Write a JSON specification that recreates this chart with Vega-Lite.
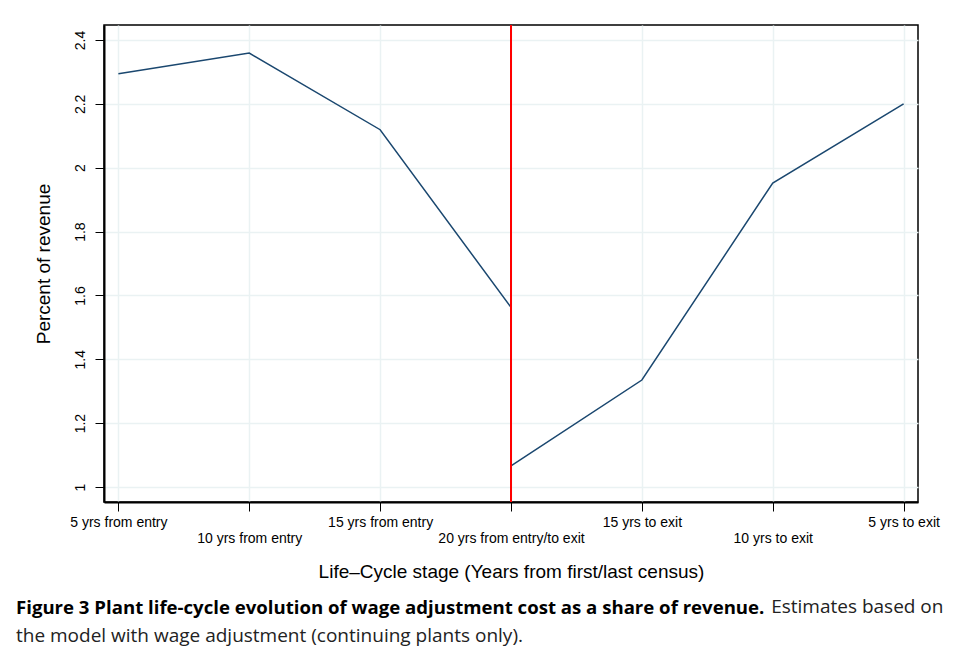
{
  "$schema": "https://vega.github.io/schema/vega-lite/v6.json",
  "autosize": {"type": "none"},
  "width": 814,
  "height": 477,
  "padding": {"left": 104, "top": 25, "right": 35, "bottom": 154},
  "background": "white",
  "config": {
    "font": "Liberation Sans",
    "view": {"stroke": "black", "strokeWidth": 1.5}
  },
  "title": {
    "text": "Figure 3 Plant life-cycle evolution of wage adjustment cost as a share of revenue.",
    "subtitle": ["\u200b\u00a0\u00a0\u00a0\u00a0\u00a0\u00a0\u00a0\u00a0\u00a0\u00a0\u00a0\u00a0\u00a0\u00a0\u00a0\u00a0\u00a0\u00a0\u00a0\u00a0\u00a0\u00a0\u00a0\u00a0\u00a0\u00a0\u00a0\u00a0\u00a0\u00a0\u00a0\u00a0\u00a0\u00a0\u00a0\u00a0\u00a0\u00a0\u00a0\u00a0\u00a0\u00a0\u00a0\u00a0\u00a0\u00a0\u00a0\u00a0\u00a0\u00a0\u00a0\u00a0\u00a0\u00a0\u00a0\u00a0\u00a0\u00a0\u00a0\u00a0\u00a0\u00a0\u00a0\u00a0\u00a0\u00a0\u00a0\u00a0\u00a0\u00a0\u00a0\u00a0\u00a0\u00a0\u00a0\u00a0\u00a0\u00a0\u00a0\u00a0\u00a0\u00a0\u00a0\u00a0\u00a0\u00a0\u00a0\u00a0\u00a0\u00a0\u00a0\u00a0\u00a0\u00a0\u00a0\u00a0\u00a0\u00a0\u00a0\u00a0\u00a0\u00a0\u00a0\u00a0\u00a0\u00a0\u00a0\u00a0\u00a0\u00a0\u00a0\u00a0\u00a0\u00a0\u00a0\u00a0\u00a0\u00a0\u00a0\u00a0\u00a0\u00a0\u00a0\u00a0\u00a0\u00a0\u00a0\u00a0\u00a0\u00a0\u00a0\u00a0\u00a0\u00a0\u00a0\u00a0\u00a0\u00a0\u00a0\u00a0\u00a0\u00a0\u00a0\u00a0\u00a0\u00a0\u00a0\u00a0\u00a0\u00a0\u00a0\u00a0\u00a0Estimates based on", "the model with wage adjustment (continuing plants only)."],
    "orient": "bottom",
    "anchor": "start",
    "frame": "group",
    "dx": -88,
    "offset": 18,
    "font": "Open Sans",
    "fontSize": 18.6,
    "fontWeight": "bold",
    "color": "black",
    "subtitleFont": "Open Sans",
    "subtitleFontSize": 19,
    "subtitleLineHeight": 29,
    "subtitleColor": "#222222",
    "subtitlePadding": -20
  },
  "datasets": {
    "series": [
      {"stage": "5 yrs from entry", "side": "entry", "pct": 2.294},
      {"stage": "10 yrs from entry", "side": "entry", "pct": 2.359},
      {"stage": "15 yrs from entry", "side": "entry", "pct": 2.119},
      {"stage": "20 yrs from entry/to exit", "side": "entry", "pct": 1.5625},
      {"stage": "20 yrs from entry/to exit", "side": "exit", "pct": 1.066},
      {"stage": "15 yrs to exit", "side": "exit", "pct": 1.335},
      {"stage": "10 yrs to exit", "side": "exit", "pct": 1.952},
      {"stage": "5 yrs to exit", "side": "exit", "pct": 2.2}
    ]
  },
  "data": {"name": "series"},
  "encoding": {
    "x": {
      "field": "stage",
      "type": "ordinal",
      "sort": ["5 yrs from entry", "10 yrs from entry", "15 yrs from entry", "20 yrs from entry/to exit", "15 yrs to exit", "10 yrs to exit", "5 yrs to exit"],
      "scale": {"type": "point", "padding": 0.11},
      "axis": {
        "title": "Life–Cycle stage (Years from first/last census)",
        "titleFontSize": 19,
        "titleFontWeight": "normal",
        "titleColor": "black",
        "titlePadding": 17,
        "labelAngle": 0,
        "labelFontSize": 14,
        "labelColor": "black",
        "labelPadding": 4,
        "labelLineHeight": 16,
        "labelExpr": "indexof(['10 yrs from entry','20 yrs from entry/to exit','10 yrs to exit'], datum.label) >= 0 ? ['', datum.label] : datum.label",
        "tickSize": 9,
        "tickColor": "black",
        "domainColor": "black",
        "domainWidth": 2,
        "grid": true,
        "gridColor": "#eaf2f3",
        "gridWidth": 1.5
      }
    },
    "y": {
      "field": "pct",
      "type": "quantitative",
      "scale": {"domain": [0.953, 2.447], "nice": false, "zero": false},
      "axis": {
        "title": "Percent of revenue",
        "titleFontSize": 19,
        "titleFontWeight": "normal",
        "titleColor": "black",
        "titlePadding": 20,
        "values": [1, 1.2, 1.4, 1.6, 1.8, 2, 2.2, 2.4],
        "format": "~g",
        "labelAngle": -90,
        "labelFontSize": 14,
        "labelColor": "black",
        "labelPadding": 8,
        "tickSize": 9,
        "tickColor": "black",
        "domainColor": "black",
        "domainWidth": 2,
        "grid": true,
        "gridColor": "#eaf2f3",
        "gridWidth": 1.5
      }
    }
  },
  "layer": [
    {
      "mark": {"type": "line", "color": "#1a476f", "strokeWidth": 1.5},
      "encoding": {"detail": {"field": "side"}}
    },
    {
      "mark": {"type": "rule", "color": "#ff0000", "strokeWidth": 1.5},
      "encoding": {"x": {"datum": "20 yrs from entry/to exit"}, "y": null}
    }
  ]
}
